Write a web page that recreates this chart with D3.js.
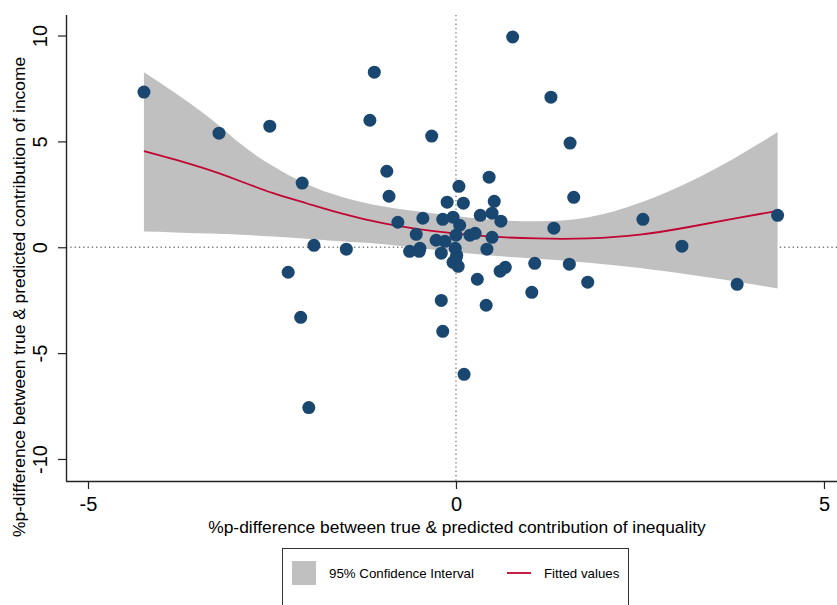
<!DOCTYPE html>
<html>
<head>
<meta charset="utf-8">
<script src="https://cdn.jsdelivr.net/npm/d3@7"></script>
<style>
  body { margin: 0; background: #fff; }
  svg { font-family: "Liberation Sans", Arial, sans-serif; }
</style>
</head>
<body>
<div id="chart"></div>
<script>
// scatter points: [inequality diff, income diff]
const points = [
  [-4.24, 7.33], [-3.22, 5.39], [-2.53, 5.72], [-2.09, 3.03], [-1.93, 0.09],
  [-2.28, -1.18], [-1.49, -0.09], [-2.11, -3.31], [-2.00, -7.57], [-1.11, 8.27],
  [-1.17, 6.00], [-0.94, 3.59], [-0.91, 2.41], [-0.79, 1.18], [-0.33, 5.25],
  [0.77, 9.93], [1.29, 7.09], [1.55, 4.92], [1.60, 2.36], [0.45, 3.31],
  [0.04, 2.88], [0.52, 2.17], [-0.12, 2.13], [0.10, 2.08], [0.33, 1.51],
  [0.49, 1.61], [0.61, 1.23], [-0.04, 1.42], [-0.18, 1.32], [-0.45, 1.37],
  [1.33, 0.90], [2.54, 1.32], [4.37, 1.51], [3.07, 0.05], [3.82, -1.75],
  [1.79, -1.65], [1.54, -0.80], [1.07, -0.76], [1.03, -2.13], [0.67, -0.95],
  [0.60, -1.13], [0.29, -1.51], [0.41, -2.74], [-0.20, -2.51], [-0.18, -3.97],
  [0.11, -6.00], [-0.54, 0.61], [-0.63, -0.19], [-0.50, -0.19], [-0.49, -0.05],
  [-0.27, 0.33], [-0.15, 0.28], [-0.20, -0.28], [0.05, 1.04], [0.00, 0.57],
  [0.19, 0.57], [0.26, 0.66], [0.49, 0.47], [0.42, -0.09], [-0.01, -0.05],
  [0.01, -0.38], [-0.04, -0.71], [0.03, -0.90], [0.00, -0.52]
];

// quadratic fit and 95% CI
const fitX  = [-4.24, -3.4, -2.93, -2.5, -2.03, -1.58, -1.0, -0.3, 0.4, 1.1, 1.8, 2.5, 3.2, 3.8, 4.37];
const fitY  = [4.54, 3.74, 3.12, 2.55, 2.08, 1.60, 1.10, 0.74, 0.50, 0.40, 0.39, 0.55, 0.97, 1.38, 1.72];
const ciHi  = [8.27, 6.35, 4.82, 3.83, 2.93, 2.38, 1.89, 1.60, 1.30, 1.18, 1.32, 2.04, 3.10, 4.21, 5.44];
const ciLo  = [0.75, 0.65, 0.59, 0.52, 0.41, 0.28, 0.17, -0.12, -0.39, -0.54, -0.72, -0.96, -1.31, -1.61, -1.95];

const xTicks = [-5, 0, 5];
const yTicks = [-10, -5, 0, 5, 10];
const xTitle = '%p-difference between true & predicted contribution of inequality';
const yTitle = '%p-difference between true & predicted contribution of income';
const legendLabels = ['95% Confidence Interval', 'Fitted values'];

const width = 837, height = 605;
const plot = {left: 66, right: 837, top: 15, bottom: 481};

const x = d3.scaleLinear().domain([-5.299, 5.177]).range([plot.left, plot.right]);
const y = d3.scaleLinear().domain([-11.04, 10.97]).range([plot.bottom, plot.top]);

const svg = d3.select('#chart').append('svg')
  .attr('width', width)
  .attr('height', height);

// reference lines at zero
svg.append('line')
  .attr('x1', plot.left).attr('x2', plot.right)
  .attr('y1', y(0)).attr('y2', y(0))
  .style('stroke', '#777').style('stroke-width', 1.3)
  .style('stroke-dasharray', '1.3,3');
svg.append('line')
  .attr('x1', x(0)).attr('x2', x(0))
  .attr('y1', plot.top).attr('y2', plot.bottom)
  .style('stroke', '#777').style('stroke-width', 1.3)
  .style('stroke-dasharray', '1.3,3');

// confidence band
const band = fitX.map((d, i) => ({x: d, lo: ciLo[i], hi: ciHi[i]}));
svg.append('path')
  .datum(band)
  .attr('d', d3.area()
    .x(d => x(d.x))
    .y0(d => y(d.lo))
    .y1(d => y(d.hi))
    .curve(d3.curveBasis))
  .style('fill', '#c0c0c0');

// fitted line
svg.append('path')
  .datum(fitX.map((d, i) => [d, fitY[i]]))
  .attr('d', d3.line()
    .x(d => x(d[0]))
    .y(d => y(d[1]))
    .curve(d3.curveBasis))
  .style('fill', 'none')
  .style('stroke', '#c10534')
  .style('stroke-width', 1.8);

// scatter
svg.selectAll('.dot')
  .data(points)
  .enter().append('circle')
  .attr('class', 'dot')
  .attr('cx', d => x(d[0]))
  .attr('cy', d => y(d[1]))
  .attr('r', 6.5)
  .style('fill', '#1a476f');

// axes
const fmt = d => String(d);
const xAxis = svg.append('g')
  .attr('transform', `translate(0,${plot.bottom})`)
  .call(d3.axisBottom(x).tickValues(xTicks).tickSize(8).tickPadding(8).tickFormat(fmt));
xAxis.select('.domain').attr('d', `M${plot.left},0.5H${plot.right}`);

const yAxis = svg.append('g')
  .attr('transform', `translate(${plot.left},0)`)
  .call(d3.axisLeft(y).tickValues(yTicks).tickSize(8).tickFormat(fmt));
yAxis.select('.domain').attr('d', `M0.5,${plot.top}V${plot.bottom}`);

[xAxis, yAxis].forEach(g => {
  g.select('.domain').style('stroke', '#222').style('stroke-width', 1.4);
  g.selectAll('.tick line').style('stroke', '#222').style('stroke-width', 1.2);
  g.selectAll('.tick text')
    .style('font-size', '20px')
    .style('fill', '#000')
    .style('font-family', '"Liberation Sans", Arial, sans-serif');
});
yAxis.selectAll('.tick text')
  .attr('x', 0).attr('dy', 0)
  .attr('text-anchor', 'middle')
  .attr('transform', 'translate(-19,0) rotate(-90)');

// axis titles
svg.append('text')
  .attr('x', 457).attr('y', 533)
  .attr('text-anchor', 'middle')
  .style('font-size', '17.4px')
  .text(xTitle);
svg.append('text')
  .attr('transform', 'translate(25,297) rotate(-90)')
  .attr('text-anchor', 'middle')
  .style('font-size', '17.4px')
  .text(yTitle);

// legend
const legend = svg.append('g');
legend.append('rect')
  .attr('x', 282.5).attr('y', 548.5)
  .attr('width', 346).attr('height', 70)
  .style('fill', '#fff').style('stroke', '#333').style('stroke-width', 1);
legend.append('rect')
  .attr('x', 292).attr('y', 561)
  .attr('width', 24).attr('height', 24)
  .style('fill', '#c0c0c0');
legend.append('text')
  .attr('x', 329).attr('y', 578)
  .style('font-size', '13.3px')
  .text(legendLabels[0]);
legend.append('line')
  .attr('x1', 507).attr('x2', 531)
  .attr('y1', 573).attr('y2', 573)
  .style('stroke', '#c10534').style('stroke-width', 1.8);
legend.append('text')
  .attr('x', 544).attr('y', 578)
  .style('font-size', '13.3px')
  .text(legendLabels[1]);
</script>
</body>
</html>
